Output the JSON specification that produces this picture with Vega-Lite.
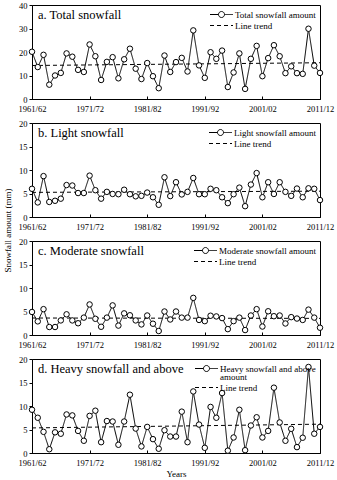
{
  "$schema": "https://vega.github.io/schema/vega-lite/v6.json",
  "padding": {"left": 3, "right": 18, "top": 0, "bottom": 2},
  "spacing": 24,
  "bounds": "flush",
  "resolve": {"scale": {"strokeDash": "independent", "y": "independent"}, "legend": {"strokeDash": "independent"}},
  "datasets": {
    "snow": [
      {"year":1961,"total":20.1,"light":6.0,"moderate":4.9,"heavy":9.2},
      {"year":1962,"total":13.6,"light":3.1,"moderate":2.9,"heavy":7.5},
      {"year":1963,"total":18.8,"light":8.7,"moderate":5.5,"heavy":4.5},
      {"year":1964,"total":6.1,"light":3.2,"moderate":1.7,"heavy":0.8},
      {"year":1965,"total":10.0,"light":3.45,"moderate":1.7,"heavy":4.4},
      {"year":1966,"total":11.1,"light":3.9,"moderate":3.1,"heavy":4.1},
      {"year":1967,"total":19.4,"light":6.8,"moderate":4.4,"heavy":8.2},
      {"year":1968,"total":18.0,"light":6.7,"moderate":3.1,"heavy":8.0},
      {"year":1969,"total":12.4,"light":5.1,"moderate":2.5,"heavy":4.7},
      {"year":1970,"total":11.5,"light":5.1,"moderate":3.7,"heavy":2.6},
      {"year":1971,"total":23.2,"light":8.8,"moderate":6.5,"heavy":7.9},
      {"year":1972,"total":18.2,"light":5.7,"moderate":3.45,"heavy":9.0},
      {"year":1973,"total":8.1,"light":3.9,"moderate":1.75,"heavy":2.3},
      {"year":1974,"total":15.8,"light":5.35,"moderate":3.7,"heavy":6.8},
      {"year":1975,"total":17.8,"light":4.9,"moderate":6.3,"heavy":6.7},
      {"year":1976,"total":8.8,"light":4.85,"moderate":2.0,"heavy":1.75},
      {"year":1977,"total":16.9,"light":5.8,"moderate":4.6,"heavy":6.7},
      {"year":1978,"total":21.4,"light":4.85,"moderate":4.2,"heavy":12.4},
      {"year":1979,"total":12.9,"light":4.4,"moderate":3.1,"heavy":5.2},
      {"year":1980,"total":8.5,"light":4.5,"moderate":2.25,"heavy":1.4},
      {"year":1981,"total":15.3,"light":5.2,"moderate":4.15,"heavy":5.55},
      {"year":1982,"total":9.7,"light":4.2,"moderate":2.4,"heavy":2.95},
      {"year":1983,"total":4.6,"light":2.6,"moderate":0.85,"heavy":0.9},
      {"year":1984,"total":18.5,"light":8.45,"moderate":5.0,"heavy":4.85},
      {"year":1985,"total":11.5,"light":4.45,"moderate":3.3,"heavy":3.5},
      {"year":1986,"total":15.7,"light":7.4,"moderate":5.0,"heavy":3.5},
      {"year":1987,"total":17.5,"light":4.8,"moderate":3.7,"heavy":8.8},
      {"year":1988,"total":11.7,"light":5.35,"moderate":3.7,"heavy":2.3},
      {"year":1989,"total":29.2,"light":8.3,"moderate":7.9,"heavy":13.1},
      {"year":1990,"total":14.3,"light":4.85,"moderate":3.2,"heavy":6.05},
      {"year":1991,"total":9.0,"light":4.85,"moderate":2.95,"heavy":1.1},
      {"year":1992,"total":19.9,"light":6.0,"moderate":4.1,"heavy":9.8},
      {"year":1993,"total":17.1,"light":5.7,"moderate":3.95,"heavy":7.5},
      {"year":1994,"total":20.6,"light":4.2,"moderate":3.6,"heavy":12.75},
      {"year":1995,"total":5.1,"light":2.95,"moderate":1.25,"heavy":0.5},
      {"year":1996,"total":11.3,"light":4.85,"moderate":2.95,"heavy":3.3},
      {"year":1997,"total":19.4,"light":6.25,"moderate":3.7,"heavy":9.2},
      {"year":1998,"total":4.3,"light":2.3,"moderate":1.05,"heavy":0.6},
      {"year":1999,"total":17.1,"light":6.9,"moderate":4.15,"heavy":5.85},
      {"year":2000,"total":22.6,"light":9.35,"moderate":5.5,"heavy":7.6},
      {"year":2001,"total":9.7,"light":4.2,"moderate":1.8,"heavy":3.3},
      {"year":2002,"total":17.4,"light":7.4,"moderate":5.05,"heavy":4.7},
      {"year":2003,"total":22.9,"light":4.9,"moderate":4.0,"heavy":13.9},
      {"year":2004,"total":18.2,"light":7.4,"moderate":4.15,"heavy":6.5},
      {"year":2005,"total":11.0,"light":5.35,"moderate":2.45,"heavy":2.6},
      {"year":2006,"total":13.9,"light":4.5,"moderate":3.8,"heavy":5.15},
      {"year":2007,"total":11.0,"light":6.05,"moderate":3.5,"heavy":1.25},
      {"year":2008,"total":10.7,"light":4.2,"moderate":3.2,"heavy":3.25},
      {"year":2009,"total":29.9,"light":6.1,"moderate":5.4,"heavy":18.3},
      {"year":2010,"total":14.2,"light":6.0,"moderate":3.7,"heavy":4.1},
      {"year":2011,"total":11.1,"light":3.6,"moderate":1.55,"heavy":5.55}
    ]
  },
  "data": {"name": "snow"},
  "config": {
    "font": "Liberation Serif",
    "view": {"stroke": "black", "strokeWidth": 1},
    "axis": {
      "labelFont": "Liberation Serif", "labelFontSize": 8.5, "labelColor": "black", "labelOverlap": false, "labelFlush": false,
      "tickColor": "black", "domainColor": "black", "grid": false,
      "titleFont": "Liberation Serif", "titleFontWeight": "normal", "titleFontSize": 9, "titleColor": "black"
    },
    "axisX": {"tickSize": -3, "labelPadding": 8},
    "axisY": {"tickSize": 3, "labelPadding": 2},
    "legend": {
      "orient": "top-right", "offset": 4, "title": null, "padding": 0,
      "labelFont": "Liberation Serif", "labelFontSize": 9, "labelColor": "black",
      "symbolSize": 100, "symbolStrokeWidth": 1, "symbolStrokeColor": "black",
      "rowPadding": 0, "labelOffset": 8
    },
    "title": {
      "anchor": "start", "frame": "group", "offset": -20, "dx": 6,
      "fontSize": 12.5, "fontWeight": "normal", "font": "Liberation Serif", "color": "black"
    }
  },
  "vconcat": [
    {
      "width": 288, "height": 94,
      "title": {"text": "a. Total snowfall"},
      "encoding": {
        "x": {"field": "year", "type": "quantitative", "scale": {"domain": [1961, 2011], "nice": false, "zero": false},
          "axis": {"values": [1961, 1971, 1981, 1991, 2001, 2011], "title": null,
            "labelExpr": "datum.value + '/' + substring(toString(datum.value + 1), 2)"}},
        "y": {"field": "total", "type": "quantitative", "scale": {"domain": [0, 40], "nice": false},
          "axis": {"values": [0, 10, 20, 30, 40], "title": null}}
      },
      "layer": [
        {
          "transform": [{"regression": "total", "on": "year"}],
          "mark": {"type": "line", "color": "black", "strokeWidth": 1},
          "encoding": {"strokeDash": {"datum": "Line trend", "type": "nominal"}}
        },
        {
          "mark": {"type": "line", "color": "black", "strokeWidth": 1},
          "encoding": {
            "strokeDash": {"datum": "Total snowfall amount", "type": "nominal",
              "scale": {"domain": ["Total snowfall amount", "Line trend"], "range": [[1, 0], [4, 3]]},
              "legend": {"encode": {"symbols": {"update": {
                "shape": {"signal": "datum.value === 'Line trend' ? 'M-2.3,0H2.3' : 'M-2.3,0H-0.6M0.6,0H2.3M-0.6,0A0.6,0.6,0,1,0,0.6,0A0.6,0.6,0,1,0,-0.6,0'"},
                "fill": {"value": "white"}, "stroke": {"value": "black"}}}}}}
          }
        },
        {
          "mark": {"type": "point", "shape": "circle", "filled": true, "fill": "white", "stroke": "black", "strokeWidth": 1, "size": 30, "opacity": 1}
        }
      ]
    },
    {
      "width": 288, "height": 94,
      "title": {"text": "b. Light snowfall"},
      "encoding": {
        "x": {"field": "year", "type": "quantitative", "scale": {"domain": [1961, 2011], "nice": false, "zero": false},
          "axis": {"values": [1961, 1971, 1981, 1991, 2001, 2011], "title": null,
            "labelExpr": "datum.value + '/' + substring(toString(datum.value + 1), 2)"}},
        "y": {"field": "light", "type": "quantitative", "scale": {"domain": [0, 20], "nice": false},
          "axis": {"values": [0, 5, 10, 15, 20], "title": "Snowfall amount (mm)", "titleY": 107, "titlePadding": 6}}
      },
      "layer": [
        {
          "transform": [{"regression": "light", "on": "year"}],
          "mark": {"type": "line", "color": "black", "strokeWidth": 1},
          "encoding": {"strokeDash": {"datum": "Line trend", "type": "nominal"}}
        },
        {
          "mark": {"type": "line", "color": "black", "strokeWidth": 1},
          "encoding": {
            "strokeDash": {"datum": "Light snowfall amount", "type": "nominal",
              "scale": {"domain": ["Light snowfall amount", "Line trend"], "range": [[1, 0], [4, 3]]},
              "legend": {"encode": {"symbols": {"update": {
                "shape": {"signal": "datum.value === 'Line trend' ? 'M-2.3,0H2.3' : 'M-2.3,0H-0.6M0.6,0H2.3M-0.6,0A0.6,0.6,0,1,0,0.6,0A0.6,0.6,0,1,0,-0.6,0'"},
                "fill": {"value": "white"}, "stroke": {"value": "black"}}}}}}
          }
        },
        {
          "mark": {"type": "point", "shape": "circle", "filled": true, "fill": "white", "stroke": "black", "strokeWidth": 1, "size": 30, "opacity": 1}
        }
      ]
    },
    {
      "width": 288, "height": 94,
      "title": {"text": "c. Moderate snowfall"},
      "encoding": {
        "x": {"field": "year", "type": "quantitative", "scale": {"domain": [1961, 2011], "nice": false, "zero": false},
          "axis": {"values": [1961, 1971, 1981, 1991, 2001, 2011], "title": null,
            "labelExpr": "datum.value + '/' + substring(toString(datum.value + 1), 2)"}},
        "y": {"field": "moderate", "type": "quantitative", "scale": {"domain": [0, 20], "nice": false},
          "axis": {"values": [0, 5, 10, 15, 20], "title": null}}
      },
      "layer": [
        {
          "transform": [{"regression": "moderate", "on": "year"}],
          "mark": {"type": "line", "color": "black", "strokeWidth": 1},
          "encoding": {"strokeDash": {"datum": "Line trend", "type": "nominal"}}
        },
        {
          "mark": {"type": "line", "color": "black", "strokeWidth": 1},
          "encoding": {
            "strokeDash": {"datum": "Moderate snowfall amount", "type": "nominal",
              "scale": {"domain": ["Moderate snowfall amount", "Line trend"], "range": [[1, 0], [4, 3]]},
              "legend": {"encode": {"symbols": {"update": {
                "shape": {"signal": "datum.value === 'Line trend' ? 'M-2.3,0H2.3' : 'M-2.3,0H-0.6M0.6,0H2.3M-0.6,0A0.6,0.6,0,1,0,0.6,0A0.6,0.6,0,1,0,-0.6,0'"},
                "fill": {"value": "white"}, "stroke": {"value": "black"}}}}}}
          }
        },
        {
          "mark": {"type": "point", "shape": "circle", "filled": true, "fill": "white", "stroke": "black", "strokeWidth": 1, "size": 30, "opacity": 1}
        }
      ]
    },
    {
      "width": 288, "height": 94,
      "title": {"text": "d. Heavy snowfall and above"},
      "encoding": {
        "x": {"field": "year", "type": "quantitative", "scale": {"domain": [1961, 2011], "nice": false, "zero": false},
          "axis": {"values": [1961, 1971, 1981, 1991, 2001, 2011], "title": "Years", "titlePadding": 3,
            "labelExpr": "datum.value + '/' + substring(toString(datum.value + 1), 2)"}},
        "y": {"field": "heavy", "type": "quantitative", "scale": {"domain": [0, 20], "nice": false},
          "axis": {"values": [0, 5, 10, 15, 20], "title": null}}
      },
      "layer": [
        {
          "transform": [{"regression": "heavy", "on": "year"}],
          "mark": {"type": "line", "color": "black", "strokeWidth": 1},
          "encoding": {"strokeDash": {"datum": "Line trend", "type": "nominal"}}
        },
        {
          "mark": {"type": "line", "color": "black", "strokeWidth": 1},
          "encoding": {
            "strokeDash": {"datum": "Heavy snowfall and above amount", "type": "nominal",
              "scale": {"domain": ["Heavy snowfall and above amount", "Line trend"], "range": [[1, 0], [4, 3]]},
              "legend": {
                "labelExpr": "datum.label === 'Heavy snowfall and above amount' ? ['Heavy snowfall and above', 'amount'] : datum.label",
                "encode": {
                  "labels": {"update": {"lineHeight": {"value": 8}}},
                  "symbols": {"update": {
                "shape": {"signal": "datum.value === 'Line trend' ? 'M-2.3,0H2.3' : 'M-2.3,0H-0.6M0.6,0H2.3M-0.6,0A0.6,0.6,0,1,0,0.6,0A0.6,0.6,0,1,0,-0.6,0'"},
                "fill": {"value": "white"}, "stroke": {"value": "black"}}}}}}
          }
        },
        {
          "mark": {"type": "point", "shape": "circle", "filled": true, "fill": "white", "stroke": "black", "strokeWidth": 1, "size": 30, "opacity": 1}
        }
      ]
    }
  ]
}
